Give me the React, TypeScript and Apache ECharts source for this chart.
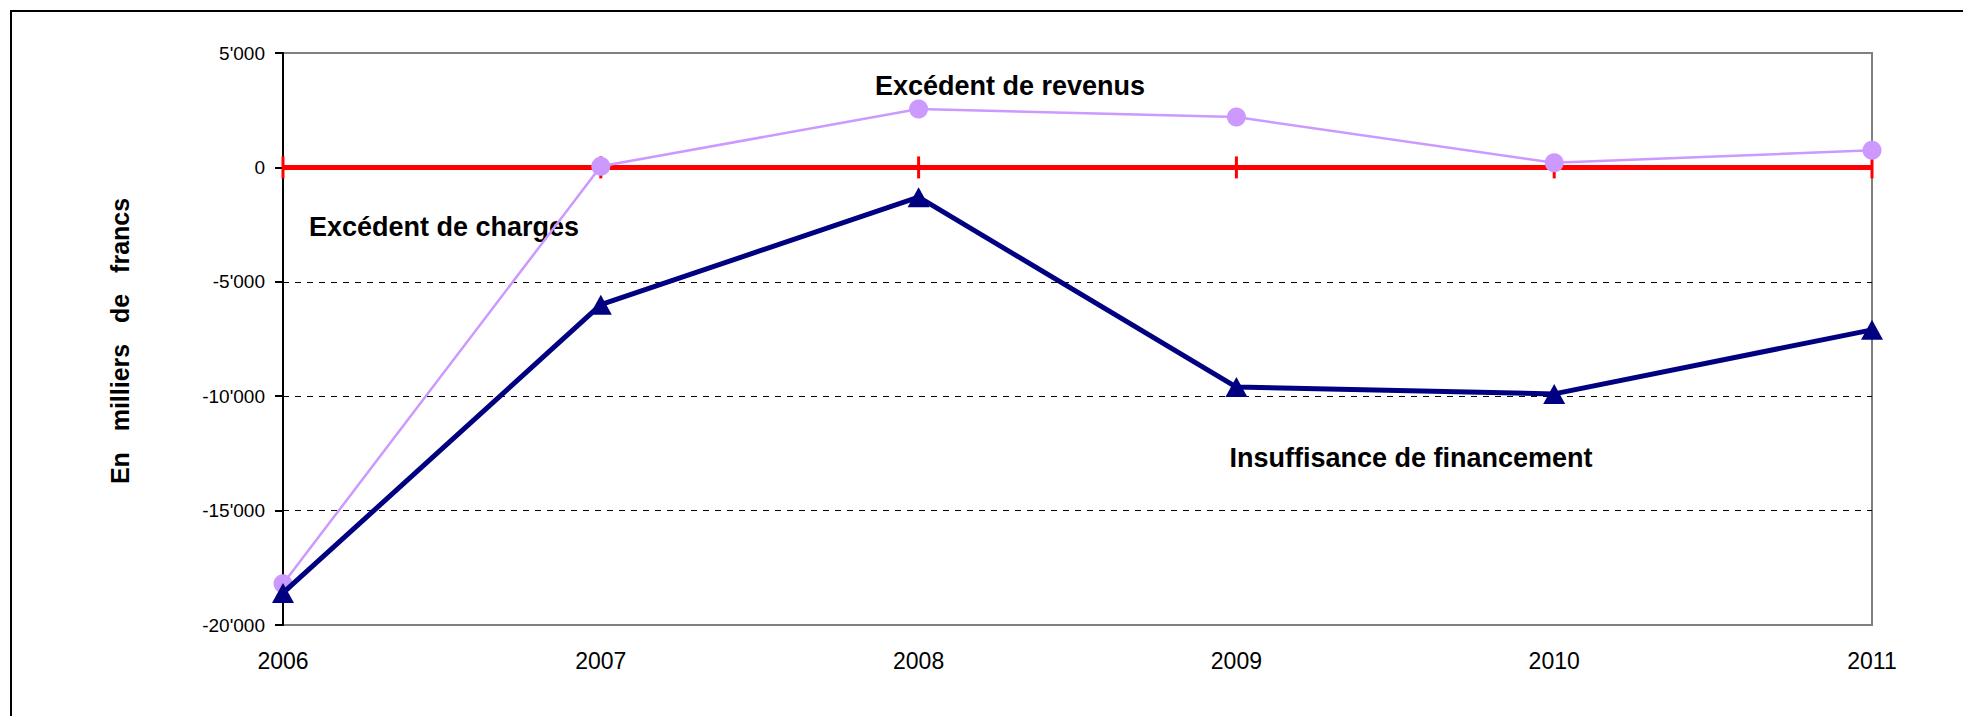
import React, { useEffect, useRef } from "react";
import * as echarts from "echarts";

const years = ["2006", "2007", "2008", "2009", "2010", "2011"];
const excedentRevenus = [-18200, 50, 2550, 2200, 200, 750];
const insuffisanceFinancement = [-18600, -6000, -1300, -9600, -9900, -7100];
const zeroLine = [0, 0, 0, 0, 0, 0];
const yTicks = { min: -20000, max: 5000, interval: 5000 };

const FONT = "'Liberation Sans', Arial, sans-serif";

function fmt(v: number): string {
  const s = Math.abs(v).toString().replace(/\B(?=(\d{3})+(?!\d))/g, "'");
  return (v < 0 ? "-" : "") + s;
}

export default function App() {
  const ref = useRef<HTMLDivElement>(null);
  useEffect(() => {
    document.body.style.margin = "0";
    const chart = echarts.init(ref.current!, null, { renderer: "svg" });
    chart.setOption({
      animation: false,
      backgroundColor: "#ffffff",
      grid: {
        left: 283,
        top: 53,
        width: 1589,
        height: 572,
        show: true,
        borderColor: "#808080",
        borderWidth: 2,
        backgroundColor: "transparent",
      },
      xAxis: {
        type: "category",
        data: years,
        boundaryGap: false,
        axisLine: { show: false, onZero: false },
        axisTick: { show: false },
        axisLabel: {
          margin: 24,
          fontSize: 23,
          color: "#000",
          fontFamily: FONT,
        },
        splitLine: { show: false },
      },
      yAxis: {
        type: "value",
        min: yTicks.min,
        max: yTicks.max,
        interval: yTicks.interval,
        axisLine: { show: true, lineStyle: { color: "#000", width: 2 } },
        axisTick: { show: true, length: 8, lineStyle: { color: "#000", width: 2 } },
        axisLabel: {
          margin: 18,
          fontSize: 19,
          color: "#000",
          fontFamily: FONT,
          formatter: fmt,
        },
        splitLine: {
          show: true,
          lineStyle: {
            type: [6, 6],
            width: 1,
            color: ["rgba(0,0,0,0)", "#000", "#000", "#000", "rgba(0,0,0,0)", "rgba(0,0,0,0)"],
          },
        },
      },
      graphic: [
        {
          type: "rect",
          shape: { x: 11, y: 11, width: 2000, height: 800 },
          style: { fill: "none", stroke: "#000", lineWidth: 2 },
          z: 100,
          silent: true,
        },
        {
          type: "text",
          x: 120,
          y: 341,
          rotation: Math.PI / 2,
          style: {
            text: "En   milliers   de   francs",
            font: `bold 25px ${FONT}`,
            fill: "#000",
            align: "center",
            verticalAlign: "middle",
          },
        },
        {
          type: "text",
          x: 1010,
          y: 86,
          style: {
            text: "Excédent de revenus",
            font: `bold 27px ${FONT}`,
            fill: "#000",
            align: "center",
            verticalAlign: "middle",
          },
        },
        {
          type: "text",
          x: 444,
          y: 227,
          style: {
            text: "Excédent de charges",
            font: `bold 27px ${FONT}`,
            fill: "#000",
            align: "center",
            verticalAlign: "middle",
          },
        },
        {
          type: "text",
          x: 1411,
          y: 458,
          style: {
            text: "Insuffisance de financement",
            font: `bold 27px ${FONT}`,
            fill: "#000",
            align: "center",
            verticalAlign: "middle",
          },
        },
      ],
      series: [
        {
          name: "Zéro",
          type: "line",
          data: zeroLine,
          symbol: "rect",
          symbolSize: [3, 22],
          showSymbol: true,
          itemStyle: { color: "#FF0000" },
          lineStyle: { color: "#FF0000", width: 5 },
          z: 2,
        },
        {
          name: "Excédent de revenus",
          type: "line",
          data: excedentRevenus,
          symbol: "circle",
          symbolSize: 19,
          itemStyle: { color: "#CC99FF" },
          lineStyle: { color: "#CC99FF", width: 2.5 },
          z: 3,
        },
        {
          name: "Insuffisance de financement",
          type: "line",
          data: insuffisanceFinancement,
          symbol: "triangle",
          symbolSize: [22, 20],
          itemStyle: { color: "#000080" },
          lineStyle: { color: "#000080", width: 5 },
          z: 4,
        },
      ],
    });
    return () => chart.dispose();
  }, []);
  return <div ref={ref} style={{ width: 1963, height: 716 }} />;
}
